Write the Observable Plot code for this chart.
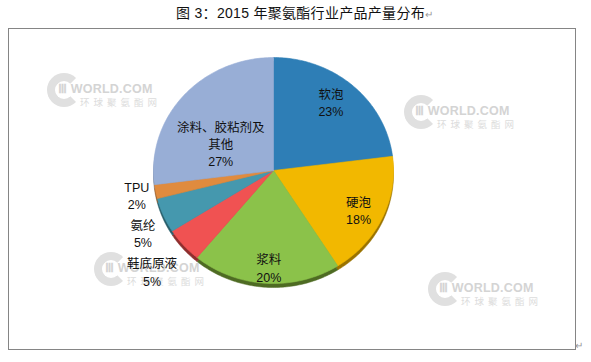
<!DOCTYPE html>
<html>
<head>
<meta charset="utf-8">
<script src="https://cdn.jsdelivr.net/npm/d3@7"></script>
<script src="https://cdn.jsdelivr.net/npm/@observablehq/plot@0.6"></script>
<style>
  html, body { margin: 0; padding: 0; background: #fff; }
  body { width: 591px; height: 362px; position: relative; overflow: hidden;
         font-family: "Liberation Sans", Arial, "Noto Sans CJK SC", sans-serif; }
  #title { position: absolute; left: 176px; top: 0; height: 28px; line-height: 27px; font-size: 14px; color: #111;
           letter-spacing: 0.3px; font-weight: 400; white-space: nowrap; }
  #title .ret { color: #999; font-size: 10px; letter-spacing: 0; }
  #frame { position: absolute; left: 8px; top: 28px; width: 566px; height: 320px;
           border: 1px solid #858585; }
  #chart { position: absolute; left: 0; top: 28px; }
  .wm { position: absolute; width: 106px; height: 34px; color: #dcdcdc; }
  .wm .ring { position: absolute; left: 0; top: 0; width: 18px; height: 18px; border-radius: 50%;
              border: 8px solid #e0e0e0; border-right-color: transparent; }
  .wm .w1 { position: absolute; left: 11px; top: 8px; font: bold 12.5px "Liberation Sans", Arial, sans-serif;
            color: #d4d4d4; letter-spacing: 0.2px; white-space: nowrap; }
  .wm .w2 { position: absolute; left: 33px; top: 22px; font-size: 9.5px; letter-spacing: 4px;
            color: #dcdcdc; white-space: nowrap; font-family: "Noto Sans CJK SC", sans-serif; }
  #ret2 { position: absolute; left: 575px; top: 340px; font-size: 10px; color: #999; }
</style>
</head>
<body>
<div id="title">图 3：2015 年聚氨酯行业产品产量分布<span class="ret">↵</span></div>
<div id="frame"></div>
<div class="wm" style="left:47px;top:73px"><div class="ring"></div><div class="w1">Ⅲ WORLD.COM</div><div class="w2">环球聚氨酯网</div></div>
<div class="wm" style="left:404px;top:95px"><div class="ring"></div><div class="w1">Ⅲ WORLD.COM</div><div class="w2">环球聚氨酯网</div></div>
<div class="wm" style="left:94px;top:252px"><div class="ring"></div><div class="w1">Ⅲ WORLD.COM</div><div class="w2">环球聚氨酯网</div></div>
<div class="wm" style="left:428px;top:272px"><div class="ring"></div><div class="w1">Ⅲ WORLD.COM</div><div class="w2">环球聚氨酯网</div></div>
<div id="ret2">↵</div>
<div id="chart"></div>
<script>
// ---- data ----
const names  = ["软泡", "硬泡", "浆料", "鞋底原液", "氨纶", "TPU", "涂料、胶粘剂及其他"];
const values = [23, 18, 20, 5, 5, 2, 27];
const labelTexts = ["软泡", "硬泡", "浆料", "鞋底原液", "氨纶", "TPU", "涂料、胶粘剂及\n其他"];

// ---- styling / layout ----
const colors  = ["#2e7eb6", "#f2b800", "#8bc24a", "#f05252", "#4598ae", "#e08b3e", "#98aed6"];
const shadows = ["#1c4d70", "#9a7300", "#4e6b23", "#8e2e2e", "#285e6b", "#8a5525", "#5e6c85"];
const labelRadius = [0.77, 0.79, 0.86, 1.35, 1.22, 1.16, 0.5];
const labelNudge  = [-3, 1, -1, 0, -3.5, 0, -13];

const total = d3.sum(values);
const toRad = Math.PI / 180;
let acc = 0;
const slices = names.map((n, i) => {
  const a0 = acc / total * 360;
  acc += values[i];
  const a1 = acc / total * 360;
  return {name: n, value: values[i], a0, a1, mid: (a0 + a1) / 2, i};
});

const pts = [];
for (const s of slices) {
  pts.push({name: s.name, x: 0, y: 0});
  const steps = Math.max(2, Math.ceil(s.a1 - s.a0));
  for (let k = 0; k <= steps; k++) {
    const a = (s.a0 + (s.a1 - s.a0) * k / steps) * toRad;
    pts.push({name: s.name, x: Math.sin(a), y: Math.cos(a)});
  }
  pts.push({name: s.name, x: 0, y: 0});
}

const labels = slices.map(s => {
  const a = (s.mid + labelNudge[s.i]) * toRad;
  const r = labelRadius[s.i];
  return {text: labelTexts[s.i] + "\n" + Math.round(s.value / total * 100) + "%", x: r * Math.sin(a), y: r * Math.cos(a)};
});

const shadowMarks = slices.map(s =>
  Plot.line(pts.filter(p => p.name === s.name), {x: "x", y: "y", fill: shadows[s.i], stroke: shadows[s.i], strokeWidth: 0.5, dy: 4})
);

const chart = Plot.plot({
  width: 591,
  height: 334,
  margin: 0,
  x: {domain: [-1, 1], range: [153, 393], axis: null},
  y: {domain: [-1, 1], range: [255, 29], axis: null},
  color: {domain: names, range: colors},
  style: {background: "transparent", overflow: "visible"},
  marks: [
    ...shadowMarks,
    Plot.line(pts, {x: "x", y: "y", z: "name", fill: "name", stroke: "name", strokeWidth: 0.6}),
    Plot.text(labels, {x: "x", y: "y", text: "text", fontSize: 12.5, lineHeight: 1.38, fill: "#111",
      fontFamily: "'Liberation Sans', Arial, 'Noto Sans CJK SC', sans-serif"})
  ]
});
document.getElementById("chart").appendChild(chart);
</script>
</body>
</html>
